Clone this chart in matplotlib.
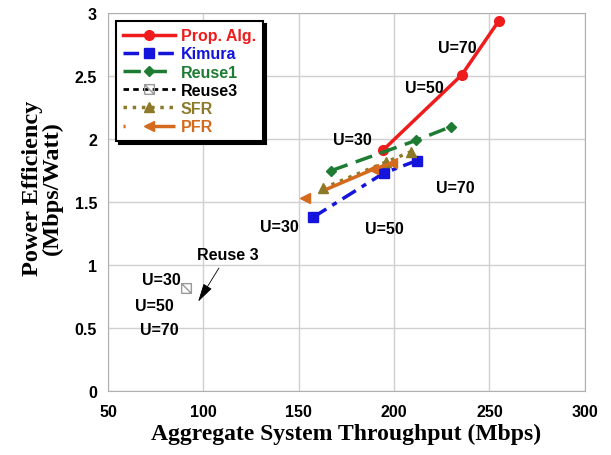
import matplotlib
matplotlib.use('Agg')
import matplotlib.pyplot as plt
from matplotlib.path import Path

# data
prop_x = [194, 235.5, 255]
prop_y = [1.91, 2.51, 2.94]
kim_x = [157.5, 194.5, 212]
kim_y = [1.38, 1.73, 1.83]
reuse1_x = [167, 211.5, 230]
reuse1_y = [1.75, 1.99, 2.10]
reuse3_x = [91]
reuse3_y = [0.82]
sfr_x = [162.7, 196, 208.8]
sfr_y = [1.61, 1.82, 1.90]
pfr_x = [153.3, 189, 199]
pfr_y = [1.53, 1.76, 1.81]

# text labels (x, y, text)
u_labels = [
    (233, 2.73, 'U=70'), (216, 2.41, 'U=50'), (178, 2.0, 'U=30'),
    (232, 1.62, 'U=70'), (140, 1.31, 'U=30'), (195, 1.29, 'U=50'),
    (78, 0.89, 'U=30'), (74, 0.68, 'U=50'), (77, 0.49, 'U=70'),
]

c_red = '#ee1c1c'
c_blue = '#1414dc'
c_green = '#1e7b32'
c_olive = '#8c7a28'
c_orange = '#d46a1e'

# square with a cross, for Reuse3
boxx = Path([(-1, -1), (1, -1), (1, 1), (-1, 1), (-1, -1), (1, 1), (-1, 1), (1, -1)],
            [Path.MOVETO, Path.LINETO, Path.LINETO, Path.LINETO, Path.LINETO,
             Path.MOVETO, Path.MOVETO, Path.LINETO])

plt.rcParams['font.family'] = ['Liberation Sans', 'DejaVu Sans']
plt.rcParams['font.weight'] = 'bold'

fig = plt.figure(figsize=(6.11, 4.56), dpi=100)
ax = fig.add_axes([0.177, 0.140, 0.780, 0.829])

ax.plot(prop_x, prop_y, color=c_red, lw=2.5, marker='o', ms=7, label='Prop. Alg.')
ax.plot(kim_x, kim_y, color=c_blue, lw=2.5, marker='s', ms=7,
        dashes=(4.5, 2, 1.5, 2), label='Kimura')
ax.plot(reuse1_x, reuse1_y, color=c_green, lw=2.5, marker='D', ms=5,
        dashes=(5, 2.5), label='Reuse1')
ax.plot(reuse3_x, reuse3_y, color='black', lw=2, marker=boxx, ms=7,
        mfc='none', mec='#999999', mew=1, dashes=(2, 1.5), label='Reuse3')
ax.plot(sfr_x, sfr_y, color=c_olive, lw=2.5, marker='^', ms=7,
        linestyle=':', label='SFR')
ax.plot(pfr_x, pfr_y, color=c_orange, lw=2.5, marker='<', ms=7,
        dashes=(0.6, 6, 30, 3), label='PFR')

for x, y, t in u_labels:
    ax.text(x, y, t, fontsize=11.5, fontweight='bold', ha='center', va='center')

ax.annotate('Reuse 3', xy=(97.2, 0.71), xytext=(112.6, 1.087),
            fontsize=11.5, fontweight='bold', ha='center', va='center',
            arrowprops=dict(arrowstyle='-|>,head_length=1.15,head_width=0.3',
                            color='black', lw=0.6, mutation_scale=10,
                            shrinkA=3, shrinkB=0))

ax.set_xlim(50, 300)
ax.set_ylim(0, 3)
ax.set_xticks([50, 100, 150, 200, 250, 300])
ax.set_yticks([0, 0.5, 1, 1.5, 2, 2.5, 3])
ax.set_yticklabels(['0', '0.5', '1', '1.5', '2', '2.5', '3'])
ax.tick_params(length=0, labelsize=11.5)
ax.tick_params(axis='x', pad=9)
ax.tick_params(axis='y', pad=8)
ax.grid(True, color='#d0d0d0', lw=1)
for s in ax.spines.values():
    s.set_color('#b0b0b0')

ax.set_xlabel('Aggregate System Throughput (Mbps)', family='Liberation Serif',
              fontsize=17, fontweight='bold', labelpad=3)
ax.set_ylabel('Power Efficiency\n(Mbps/Watt)', family='Liberation Serif',
              fontsize=17.5, fontweight='bold', linespacing=0.95)
ax.yaxis.set_label_coords(-0.094, 0.54)

leg = ax.legend(loc='upper left', bbox_to_anchor=(0.017, 0.979), fontsize=11.5,
                frameon=True, fancybox=False, borderpad=0.45, labelspacing=0.2,
                handlelength=3.2, handletextpad=0.4, borderaxespad=0,
                shadow={'color': 'black', 'alpha': 1})
leg.get_frame().set_edgecolor('black')
leg.get_frame().set_linewidth(1.5)
for txt, col in zip(leg.get_texts(), [c_red, c_blue, c_green, 'black', c_olive, c_orange]):
    txt.set_color(col)

fig.savefig('out.png', dpi=100)
